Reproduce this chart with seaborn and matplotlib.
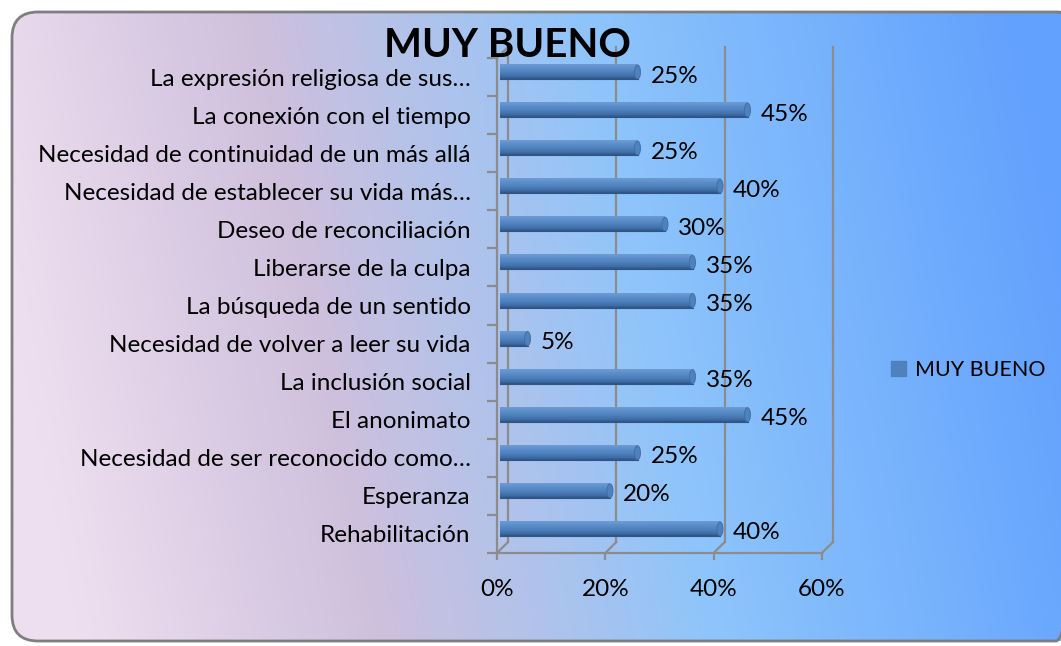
import numpy as np
import seaborn as sb
from matplotlib import pyplot as plt
from matplotlib import transforms
from matplotlib.patches import FancyBboxPatch, Patch, Ellipse
from matplotlib.lines import Line2D
from matplotlib.colors import LinearSegmentedColormap

labels = ['La expresión religiosa de sus…', 'La conexión con el tiempo',
          'Necesidad de continuidad de un más allá',
          'Necesidad de establecer su vida más…', 'Deseo de reconciliación',
          'Liberarse de la culpa', 'La búsqueda de un sentido',
          'Necesidad de volver a leer su vida', 'La inclusión social',
          'El anonimato', 'Necesidad de ser reconocido como…', 'Esperanza',
          'Rehabilitación']
values = [25, 45, 25, 40, 30, 35, 35, 5, 35, 45, 25, 20, 40]
xticks = [0, 20, 40, 60]
series = 'MUY BUENO'

plt.rcParams['font.family'] = ['Lato', 'DejaVu Sans']
W, H = 1061, 646
FS = 17.5
fig = plt.figure(figsize=(W / 100, H / 100), dpi=100)

# background gradient inside rounded frame
bg = fig.add_axes([0, 0, 1, 1])
bg.set_zorder(-5)
bg.axis('off')
bg.set_xlim(0, W)
bg.set_ylim(H, 0)
xx, yy = np.meshgrid(np.linspace(0, 1, 400), np.linspace(0, 1, 250))
t = np.clip(xx - 0.12 * yy + 0.06, 0, 1)
cmap = LinearSegmentedColormap.from_list('bg', [
    (0.0, '#eedff0'), (0.28, '#cfc0dd'), (0.45, '#aec3ec'),
    (0.6, '#8ec5fb'), (1.0, '#62a1fe')])
im = bg.imshow(t, cmap=cmap, vmin=0, vmax=1, extent=(12, 1080, 641, 12),
               aspect='auto', interpolation='bilinear')
frame = FancyBboxPatch((12, 12), 1070, 629,
                       boxstyle='round,pad=0,rounding_size=26',
                       fc='none', ec='#7f7f7f', lw=2)
bg.add_patch(frame)
im.set_clip_path(frame)

# front plane of the 3D axes
ax = fig.add_axes([497 / W, 1 - 553 / H, 325 / W, 495 / H])
ax.set_facecolor('none')
ax.set_xlim(0, 0.6)
ax.set_ylim(12.5, -0.5)

# bars live a few pixels deeper (mid plane)
ax2 = fig.add_axes([500 / W, 1 - 548 / H, 330 / W, 495 / H])
ax2.set_facecolor('none')
fr = [v / 100 for v in values]
sb.barplot(x=fr, y=labels, orient='h', color='#4f81bd', width=0.37,
           saturation=1, edgecolor='none', ax=ax2)
ax2.set_xlim(0, 0.6)
ax2.set_ylim(12.5, -0.5)
ax2.axis('off')

barcmap = LinearSegmentedColormap.from_list('bar', [
    (0.0, '#6f9bd2'), (0.25, '#5d8fcc'), (0.55, '#4f81bd'),
    (0.85, '#3f6ca4'), (1.0, '#2f5587')])
grad = np.linspace(0, 1, 32).reshape(-1, 1)
cap_w = 6 * 0.6 / 330
for p in list(ax2.patches):
    x0, y0, w, h = p.get_x(), p.get_y(), p.get_width(), p.get_height()
    ax2.imshow(grad, cmap=barcmap, extent=(x0, x0 + w, y0 + h, y0),
               aspect='auto', interpolation='bilinear', zorder=2)
    ax2.add_patch(Ellipse((x0 + w, y0 + h / 2), cap_w, h, fc='#4f81bd',
                          ec='#3f6ca4', lw=0.6, zorder=3))
    ax2.plot([x0, x0 + w], [y0 + h, y0 + h], color='#2f5587', lw=0.8,
             zorder=3)
ax2.set_xlim(0, 0.6)
ax2.set_ylim(12.5, -0.5)

grid_c = '#8c8c8c'
back = transforms.offset_copy(ax.transData, fig=fig, x=11, y=11, units='dots')
for xv in xticks:
    ax.plot([xv / 100, xv / 100], [12.5, -0.5], transform=back,
            color=grid_c, lw=1.6, clip_on=False, zorder=0)
    a = ax.transData.transform((xv / 100, 12.5))
    fig.add_artist(Line2D([a[0], a[0] + 11], [a[1], a[1] + 11],
                          transform=transforms.IdentityTransform(),
                          color=grid_c, lw=1.6, zorder=1))
a = ax.transData.transform((0, -0.5))
fig.add_artist(Line2D([a[0], a[0] + 11], [a[1], a[1] + 11],
                      transform=transforms.IdentityTransform(),
                      color=grid_c, lw=1.6, zorder=1))

for s in ['top', 'right']:
    ax.spines[s].set_visible(False)
for s in ['left', 'bottom']:
    ax.spines[s].set_color(grid_c)
    ax.spines[s].set_linewidth(1.6)

ax.set_xticks([v / 100 for v in xticks])
ax.set_xticklabels([f'{v}%' for v in xticks])
ax.set_yticks(range(len(labels)))
ax.set_yticklabels(labels)
ax.set_yticks(np.arange(-0.5, len(labels), 1), minor=True)
ax.tick_params(axis='y', which='major', length=0, pad=19, labelsize=FS)
ax.tick_params(axis='y', which='minor', length=7, color=grid_c, width=1.6)
ax.tick_params(axis='x', length=5, color=grid_c, width=1.6, pad=14,
               labelsize=FS)

for i, v in enumerate(values):
    ax2.annotate(f'{v}%', (v / 100, i), xytext=(13, -4),
                 textcoords='offset pixels', va='center', ha='left',
                 fontsize=FS)

fig.text(507 / W, 1 - 57 / H, series, ha='center', va='baseline',
         fontsize=29, fontweight='bold')

fig.legend(handles=[Patch(color='#4f81bd')], labels=[series],
           loc='center left', bbox_to_anchor=(872 / W, 1 - 370 / H),
           frameon=False, fontsize=15.5, handlelength=0.7, handleheight=0.7,
           handletextpad=0.4)

fig.savefig('out.png', dpi=100)
